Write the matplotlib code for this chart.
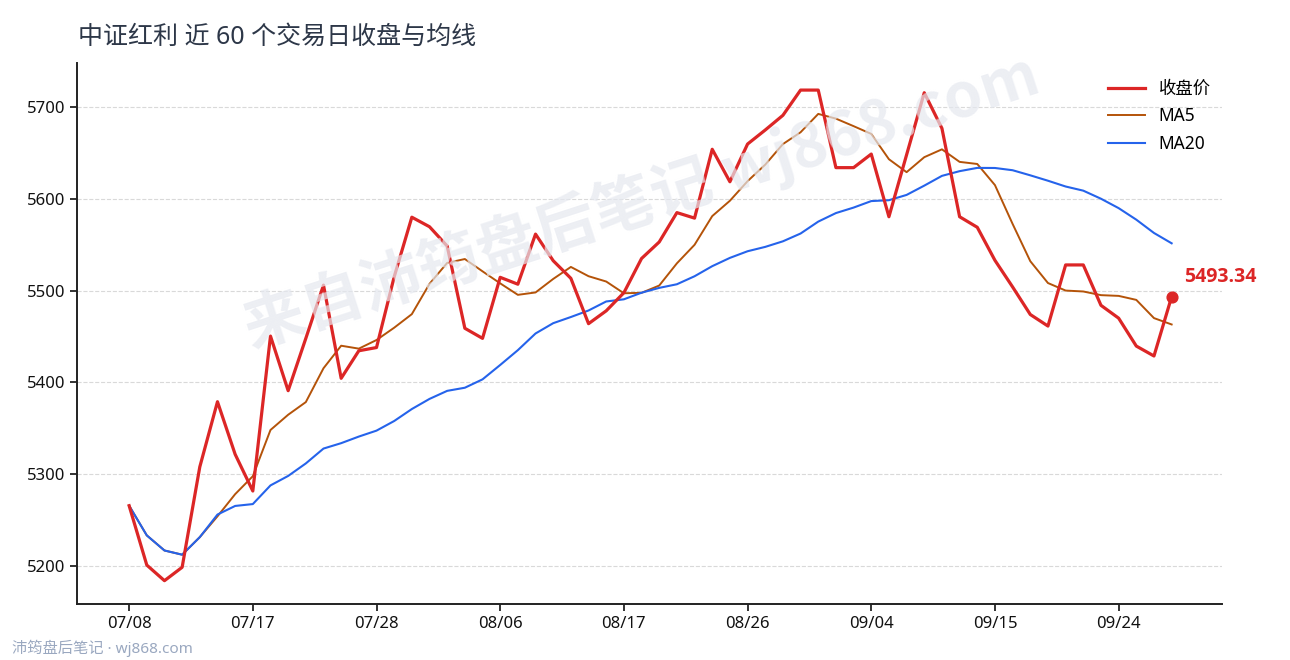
import numpy as np
import pandas as pd
import matplotlib
matplotlib.use("Agg")
import matplotlib.pyplot as plt

plt.rcParams['font.family'] = ['Noto Sans', 'Noto Sans CJK SC', 'DejaVu Sans']

# 收盘价
close = [5265.7, 5201.0, 5184.0, 5198.6, 5308.0, 5379.0, 5321.7, 5281.7, 5450.5, 5391.0,
         5448.0, 5506.0, 5404.5, 5434.5, 5438.0, 5515.0, 5580.0, 5569.6, 5548.6, 5459.0,
         5448.0, 5514.5, 5507.0, 5561.6, 5532.6, 5513.4, 5464.0, 5478.0, 5497.7, 5535.0,
         5553.0, 5585.0, 5579.0, 5654.0, 5618.6, 5659.7, 5675.0, 5691.0, 5718.5, 5718.5,
         5634.0, 5634.0, 5648.8, 5580.5, 5648.0, 5715.6, 5676.8, 5580.5, 5569.0, 5533.0,
         5504.0, 5474.0, 5461.4, 5528.0, 5528.0, 5484.0, 5470.0, 5439.6, 5428.8, 5493.34]

tick_pos = [0, 7, 14, 21, 28, 35, 42, 49, 56]
tick_labels = ["07/08", "07/17", "07/28", "08/06", "08/17", "08/26", "09/04", "09/15", "09/24"]
y_ticks = [5200, 5300, 5400, 5500, 5600, 5700]

s = pd.Series(close)
ma5 = s.rolling(5, min_periods=1).mean()
ma20 = s.rolling(20, min_periods=1).mean()
x = np.arange(len(close))

RED = "#dc2626"
ORANGE = "#b45309"
BLUE = "#2563eb"

fig = plt.figure(figsize=(12.9, 6.6), dpi=100)
ax = fig.add_axes([77/1290, 1 - 604/660, (1222 - 77)/1290, (604 - 63)/660])

# watermark
fig.text(0.497, 0.695, "来自沛筠盘后笔记 wj868.com", fontsize=44, fontweight="bold",
         family=['Noto Sans CJK SC', 'DejaVu Sans'],
         color="#e5e8ef", alpha=0.7, rotation=18, ha="center", va="center", zorder=0)

ax.plot(x, close, color=RED, lw=2.3, label="收盘价", zorder=4)
ax.plot(x, ma5, color=ORANGE, lw=1.4, label="MA5", zorder=3)
ax.plot(x, ma20, color=BLUE, lw=1.5, label="MA20", zorder=3)
ax.scatter([x[-1]], [close[-1]], s=60, color=RED, zorder=5)
ax.annotate(f"{close[-1]:.2f}", (x[-1], close[-1]), xytext=(9, 7), textcoords="offset points",
            color=RED, fontsize=14, fontweight="bold", family=['Open Sans', 'DejaVu Sans'],
            ha="left", va="bottom")

ax.set_xlim(-2.95, 61.85)
ax.set_ylim(5158.6, 5748)
ax.set_xticks(tick_pos)
ax.set_xticklabels(tick_labels)
ax.set_yticks(y_ticks)
ax.tick_params(labelsize=12, length=5, width=1.2, colors="#111111")
ax.grid(axis="y", linestyle="--", color="#d9d9d9", lw=0.8)
ax.set_axisbelow(True)
ax.patch.set_alpha(0)
for side in ["top", "right"]:
    ax.spines[side].set_visible(False)
for side in ["left", "bottom"]:
    ax.spines[side].set_linewidth(1.4)
    ax.spines[side].set_color("#222222")

ax.legend(loc="upper right", frameon=False, fontsize=12.5, bbox_to_anchor=(1.004, 0.998),
          handlelength=2.1, labelspacing=0.55)

fig.text(78/1290, 1 - 37/660, "中证红利 近 60 个交易日收盘与均线", fontsize=18,
         color="#2d3748", ha="left", va="center")
fig.text(12/1290, 1 - 648/660, "沛筠盘后笔记 · wj868.com", fontsize=11,
         color="#9aa8c0", ha="left", va="center")

fig.savefig("out.png", dpi=100)
